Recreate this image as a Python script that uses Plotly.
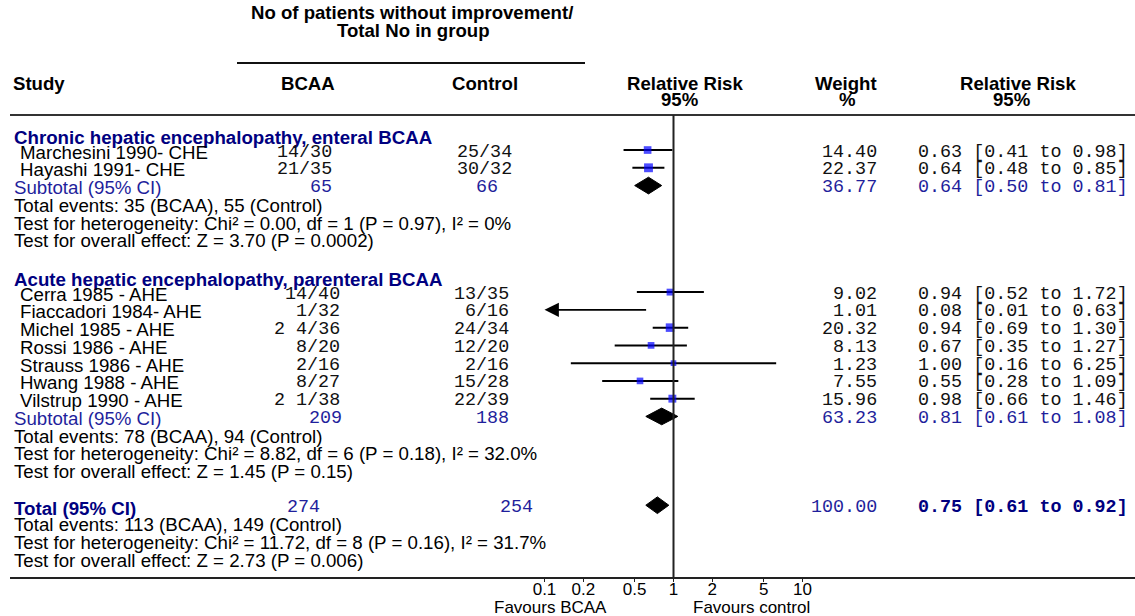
import math
import plotly.graph_objects as go

# ---------------- data ----------------
group_titles = ["Chronic hepatic encephalopathy, enteral BCAA",
                "Acute hepatic encephalopathy, parenteral BCAA"]

g1_studies = ["Marchesini 1990- CHE", "Hayashi 1991- CHE"]
g1_bcaa = ["14/30", "21/35"]
g1_ctrl = ["25/34", "30/32"]
g1_weight = [14.40, 22.37]
g1_rr = [0.63, 0.64]
g1_lo = [0.41, 0.48]
g1_hi = [0.98, 0.85]
g1_sub = {"bcaa": "65", "ctrl": "66", "weight": 36.77, "rr": 0.64, "lo": 0.50, "hi": 0.81}
g1_stats = ["Total events: 35 (BCAA), 55 (Control)",
            "Test for heterogeneity: Chi² = 0.00, df = 1 (P = 0.97), I² = 0%",
            "Test for overall effect: Z = 3.70 (P = 0.0002)"]

g2_studies = ["Cerra 1985 - AHE", "Fiaccadori 1984- AHE", "Michel 1985 - AHE",
              "Rossi 1986 - AHE", "Strauss 1986 - AHE", "Hwang 1988 - AHE",
              "Vilstrup 1990 - AHE"]
g2_bcaa = ["14/40", "1/32", "2 4/36", "8/20", "2/16", "8/27", "2 1/38"]
g2_ctrl = ["13/35", "6/16", "24/34", "12/20", "2/16", "15/28", "22/39"]
g2_weight = [9.02, 1.01, 20.32, 8.13, 1.23, 7.55, 15.96]
g2_rr = [0.94, 0.08, 0.94, 0.67, 1.00, 0.55, 0.98]
g2_lo = [0.52, 0.01, 0.69, 0.35, 0.16, 0.28, 0.66]
g2_hi = [1.72, 0.63, 1.30, 1.27, 6.25, 1.09, 1.46]
g2_sub = {"bcaa": "209", "ctrl": "188", "weight": 63.23, "rr": 0.81, "lo": 0.61, "hi": 1.08}
g2_stats = ["Total events: 78 (BCAA), 94 (Control)",
            "Test for heterogeneity: Chi² = 8.82, df = 6 (P = 0.18), I² = 32.0%",
            "Test for overall effect: Z = 1.45 (P = 0.15)"]

total = {"bcaa": "274", "ctrl": "254", "weight": 100.00, "rr": 0.75, "lo": 0.61, "hi": 0.92}
total_stats = ["Total events: 113 (BCAA), 149 (Control)",
               "Test for heterogeneity: Chi² = 11.72, df = 8 (P = 0.16), I² = 31.7%",
               "Test for overall effect: Z = 2.73 (P = 0.006)"]

tick_vals = [0.1, 0.2, 0.5, 1, 2, 5, 10]
tick_text = ["0.1", "0.2", "0.5", "1", "2", "5", "10"]
AXIS_MIN = 0.1

# ---------------- layout helpers ----------------
W, H = 1135, 616
ML, MB = 10, 39
PW, PH = W - ML, H - MB
ROW0_PX, ROW_STEP = 132.27, 17.76
TEXT_DY = 2.0 / ROW_STEP     # text sits slightly below the marks
HEAD_DY = 5.0 / ROW_STEP     # group headings sit lower still


def xp(p):
    return (p - ML) / PW


def yp(p):
    return 1 - p / PH


SANS = "Liberation Sans, Arial, sans-serif"
MONO = "Liberation Mono, Courier New, monospace"
NAVY = "#000080"
BLUE2 = "#1f1f9c"
BLACK = "#000000"
BODY = 18.7
HEAD = 18.6

ann = []
shapes = []


def text(p_x, row, s, anchor="left", size=BODY, color=BLACK, family=SANS, dy=TEXT_DY):
    off = {"left": -2, "right": 2, "center": 0}[anchor]
    ann.append(dict(x=xp(p_x + off), xref="paper", y=row + dy, yref="y", text=s,
                    showarrow=False, xanchor=anchor, yanchor="middle",
                    font=dict(size=size, color=color, family=family)))


def htext(p_x, p_y, s, anchor="center", size=HEAD, color=BLACK, family=SANS):
    ann.append(dict(x=xp(p_x), xref="paper", y=yp(p_y), yref="paper", text=s,
                    showarrow=False, xanchor=anchor, yanchor="middle",
                    font=dict(size=size, color=color, family=family)))


fig = go.Figure()

# column positions (pixels)
STUDY_X, HEAD_X, SUB_X = 19.5, 14, 13.5
WEIGHT_R, RR_L = 877, 918
MONO_SIZE = 18.4

groups = [
    dict(title=group_titles[0], studies=g1_studies, bcaa=g1_bcaa, ctrl=g1_ctrl,
         weight=g1_weight, rr=g1_rr, lo=g1_lo, hi=g1_hi, sub=g1_sub, stats=g1_stats,
         bcaa_r=332, ctrl_r=512, sub_bcaa_r=332, sub_ctrl_r=498),
    dict(title=group_titles[1], studies=g2_studies, bcaa=g2_bcaa, ctrl=g2_ctrl,
         weight=g2_weight, rr=g2_rr, lo=g2_lo, hi=g2_hi, sub=g2_sub, stats=g2_stats,
         bcaa_r=340, ctrl_r=509, sub_bcaa_r=342, sub_ctrl_r=509),
]

sq_x, sq_y, sq_s = [], [], []
ci_x, ci_y = [], []
diamonds = []

row = 0
for g in groups:
    text(HEAD_X, row, "<b>" + g["title"] + "</b>", color=NAVY, dy=HEAD_DY)
    row += 1
    for i, name in enumerate(g["studies"]):
        text(STUDY_X, row, name)
        text(g["bcaa_r"], row, g["bcaa"][i], "right", MONO_SIZE, "#111", MONO)
        text(g["ctrl_r"], row, g["ctrl"][i], "right", MONO_SIZE, "#111", MONO)
        text(WEIGHT_R, row, f"{g['weight'][i]:.2f}", "right", MONO_SIZE, "#111", MONO)
        text(RR_L, row, f"{g['rr'][i]:.2f} [{g['lo'][i]:.2f} to {g['hi'][i]:.2f}]",
             "left", MONO_SIZE, "#111", MONO)
        if g["rr"][i] >= AXIS_MIN:
            sq_x.append(g["rr"][i]); sq_y.append(row); sq_s.append(5.5 + 0.15 * g["weight"][i])
        if g["lo"][i] >= AXIS_MIN:
            ci_x += [g["lo"][i], g["hi"][i], None]; ci_y += [row, row, None]
        else:
            ann.append(dict(x=math.log10(AXIS_MIN), y=row, xref="x", yref="y",
                            ax=math.log10(g["hi"][i]), ay=row, axref="x", ayref="y",
                            text="", showarrow=True, arrowhead=2, arrowsize=1.6,
                            arrowwidth=1.8, arrowcolor=BLACK, standoff=0, startstandoff=0))
        row += 1
    s = g["sub"]
    text(SUB_X, row, "Subtotal (95% CI)", color=BLUE2)
    text(g["sub_bcaa_r"], row, s["bcaa"], "right", MONO_SIZE, BLUE2, MONO)
    text(g["sub_ctrl_r"], row, s["ctrl"], "right", MONO_SIZE, BLUE2, MONO)
    text(WEIGHT_R, row, f"{s['weight']:.2f}", "right", MONO_SIZE, BLUE2, MONO)
    text(RR_L, row, f"{s['rr']:.2f} [{s['lo']:.2f} to {s['hi']:.2f}]", "left", MONO_SIZE, BLUE2, MONO)
    diamonds.append((s["lo"], s["rr"], s["hi"], row))
    row += 1
    for st in g["stats"]:
        text(SUB_X, row, st)
        row += 1
    row += 1

# overall total
text(SUB_X, row, "<b>Total (95% CI)</b>", color=NAVY, dy=TEXT_DY * 1.5)
text(320, row, total["bcaa"], "right", MONO_SIZE, BLUE2, MONO)
text(533, row, total["ctrl"], "right", MONO_SIZE, BLUE2, MONO)
text(WEIGHT_R, row, f"{total['weight']:.2f}", "right", MONO_SIZE, BLUE2, MONO)
text(RR_L, row, f"<b>{total['rr']:.2f} [{total['lo']:.2f} to {total['hi']:.2f}]</b>",
     "left", MONO_SIZE, NAVY, MONO)
diamonds.append((total["lo"], total["rr"], total["hi"], row))
row += 1
for st in total_stats:
    text(SUB_X, row, st)
    row += 1

# ---------------- traces ----------------
fig.add_trace(go.Scatter(x=ci_x, y=ci_y, mode="lines",
                         line=dict(color=BLACK, width=2), hoverinfo="skip"))
DH = 0.47
for lo, est, hi, r in diamonds:
    fig.add_trace(go.Scatter(x=[lo, est, hi, est, lo], y=[r, r - DH, r, r + DH, r],
                             mode="lines", fill="toself", fillcolor=BLACK,
                             line=dict(color=BLACK, width=1), hoverinfo="skip"))
fig.add_trace(go.Scatter(x=sq_x, y=sq_y, mode="markers",
                         marker=dict(symbol="square", color="#0000ff", size=sq_s,
                                     line=dict(width=0)), hoverinfo="skip"))

# ---------------- headers ----------------
htext(412, 12, "<b>No of patients without improvement/</b>")
htext(413, 31, "<b>Total No in group</b>")
htext(13 - 2, 83, "<b>Study</b>", anchor="left")
htext(308, 83, "<b>BCAA</b>")
htext(485, 83, "<b>Control</b>")
htext(685, 83, "<b>Relative Risk</b>")
htext(680, 100, "<b>95%</b>")
htext(846, 83, "<b>Weight</b>")
htext(847, 100, "<b>%</b>")
htext(1018, 83, "<b>Relative Risk</b>")
htext(1012, 100, "<b>95%</b>")
htext(550, 607, "Favours BCAA", size=17)
htext(751, 607, "Favours control", size=17)

shapes.append(dict(type="line", xref="paper", yref="paper", x0=xp(237), x1=xp(585),
                   y0=yp(63), y1=yp(63), line=dict(color="#111", width=2)))
shapes.append(dict(type="line", xref="paper", yref="paper", x0=0, x1=1,
                   y0=yp(115), y1=yp(115), line=dict(color="#333", width=2)))
shapes.append(dict(type="line", xref="x", yref="paper", x0=1, x1=1,
                   y0=yp(577), y1=yp(115), line=dict(color="#222", width=2)))

# ---------------- axes ----------------
PX_ONE, PX_DECADE = 673.5, 129.0
x_range = [-(PX_ONE - ML) / PX_DECADE, (W - PX_ONE) / PX_DECADE]
y_range = [(PH - ROW0_PX) / ROW_STEP, -ROW0_PX / ROW_STEP]

fig.update_layout(
    width=W, height=H, margin=dict(l=ML, r=0, t=0, b=MB),
    paper_bgcolor="white", plot_bgcolor="white", showlegend=False,
    annotations=ann, shapes=shapes,
    xaxis=dict(type="log", range=x_range, tickvals=tick_vals, ticktext=tick_text,
               showgrid=False, zeroline=False, showline=True, linecolor="#222",
               linewidth=2, ticks="outside", ticklen=3, tickcolor="#222",
               ticklabelstandoff=-7,
               tickfont=dict(family=SANS, size=17, color=BLACK), fixedrange=True),
    yaxis=dict(range=y_range, visible=False, fixedrange=True),
)

fig.write_html("out.html")
